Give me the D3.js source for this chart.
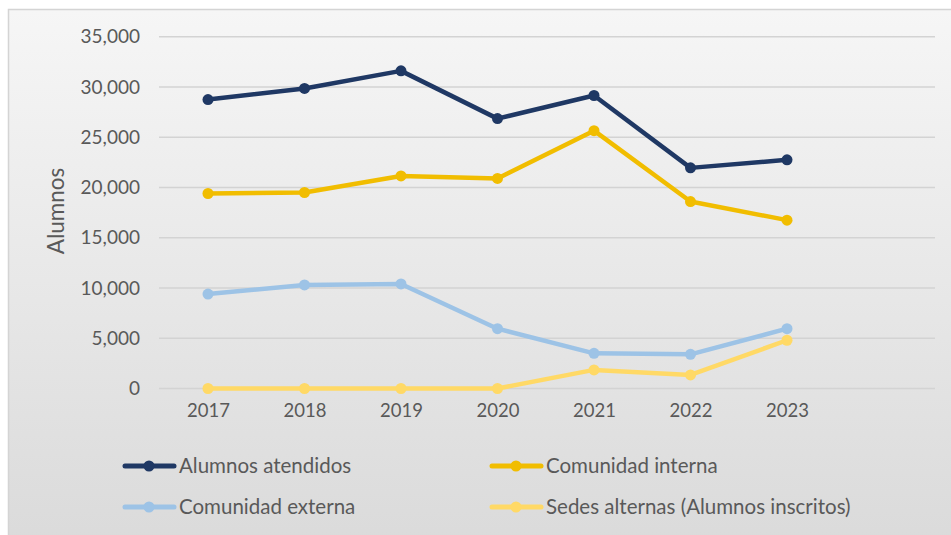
<!DOCTYPE html>
<html>
<head>
<meta charset="utf-8">
<script src="https://cdn.jsdelivr.net/npm/d3@7"></script>
<style>
  body { margin: 0; background: #fff; }
  svg { display: block; }
  text { font-family: Lato, "Open Sans", sans-serif; fill: #595959; }
</style>
</head>
<body>
<svg id="chart" width="951" height="535"></svg>
<script>
const years = ["2017", "2018", "2019", "2020", "2021", "2022", "2023"];
const atendidos = [28750, 29850, 31600, 26850, 29150, 21950, 22750];
const interna = [19400, 19500, 21150, 20900, 25650, 18600, 16750];
const externa = [9400, 10300, 10400, 5950, 3500, 3400, 5950];
const sedes = [0, 0, 0, 0, 1850, 1350, 4800];
const yTicks = [0, 5000, 10000, 15000, 20000, 25000, 30000, 35000];

const series = [
  { name: "Alumnos atendidos", values: atendidos, color: "#1f3864" },
  { name: "Comunidad interna", values: interna, color: "#f1bd00" },
  { name: "Comunidad externa", values: externa, color: "#9dc3e6" },
  { name: "Sedes alternas (Alumnos inscritos)", values: sedes, color: "#ffd966" }
];

const svg = d3.select("#chart");

// background gradient box
const defs = svg.append("defs");
const grad = defs.append("linearGradient")
  .attr("id", "bg").attr("x1", 0).attr("y1", 0).attr("x2", 0).attr("y2", 1);
grad.append("stop").attr("offset", "0%").attr("stop-color", "#f6f6f6");
grad.append("stop").attr("offset", "100%").attr("stop-color", "#d9d9d9");

svg.append("rect")
  .attr("x", 8.5).attr("y", 9.5)
  .attr("width", 960).attr("height", 560)
  .attr("fill", "url(#bg)")
  .attr("stroke", "#d4d4d4")
  .attr("stroke-width", 1.5);

const plotLeft = 159, plotRight = 935;

const x = d3.scalePoint()
  .domain(years)
  .range([208, 787]);

const y = d3.scaleLinear()
  .domain([0, 35000])
  .range([388.5, 36.7]);

// gridlines
svg.append("g")
  .selectAll("line")
  .data(yTicks)
  .enter()
  .append("line")
  .attr("x1", plotLeft).attr("x2", plotRight)
  .attr("y1", d => y(d)).attr("y2", d => y(d))
  .attr("stroke", "#d3d3d3")
  .attr("stroke-width", 1.5);

// y axis labels
const yAxis = svg.append("g")
  .attr("transform", "translate(140,0)")
  .call(d3.axisLeft(y).tickValues(yTicks).tickSize(0).tickPadding(0)
    .tickFormat(d3.format(",")));
yAxis.select(".domain").remove();
yAxis.selectAll("text")
  .style("font-size", "19px")
  .attr("fill", "#595959");

// x axis labels
const xAxis = svg.append("g")
  .attr("transform", "translate(0,404)")
  .call(d3.axisBottom(x).tickSize(0).tickPadding(0));
xAxis.select(".domain").remove();
xAxis.selectAll("text")
  .style("font-size", "18.5px")
  .attr("fill", "#595959");

// axis title
svg.append("text")
  .attr("transform", "translate(64,211) rotate(-90)")
  .attr("text-anchor", "middle")
  .style("font-size", "22.5px")
  .text("Alumnos");

const line = d3.line()
  .x((d, i) => x(years[i]))
  .y(d => y(d));

series.forEach(s => {
  const g = svg.append("g");
  g.append("path")
    .datum(s.values)
    .attr("d", line)
    .attr("fill", "none")
    .attr("stroke", s.color)
    .attr("stroke-width", 4.5)
    .attr("stroke-linejoin", "round");
  g.selectAll("circle")
    .data(s.values)
    .enter()
    .append("circle")
    .attr("cx", (d, i) => x(years[i]))
    .attr("cy", d => y(d))
    .attr("r", 5.5)
    .attr("fill", s.color);
});

// legend
const legendPos = [
  { x: 123, y: 466 }, { x: 490, y: 466 },
  { x: 123, y: 507 }, { x: 490, y: 507 }
];
series.forEach((s, i) => {
  const p = legendPos[i];
  const g = svg.append("g").attr("transform", `translate(${p.x},${p.y})`);
  g.append("line")
    .attr("x1", 2).attr("x2", 51)
    .attr("stroke", s.color)
    .attr("stroke-width", 5)
    .attr("stroke-linecap", "round");
  g.append("circle").attr("cx", 26).attr("r", 5.5).attr("fill", s.color);
  g.append("text")
    .attr("x", 56)
    .attr("dy", "0.35em")
    .style("font-size", "20.5px")
    .text(s.name);
});
</script>
</body>
</html>
